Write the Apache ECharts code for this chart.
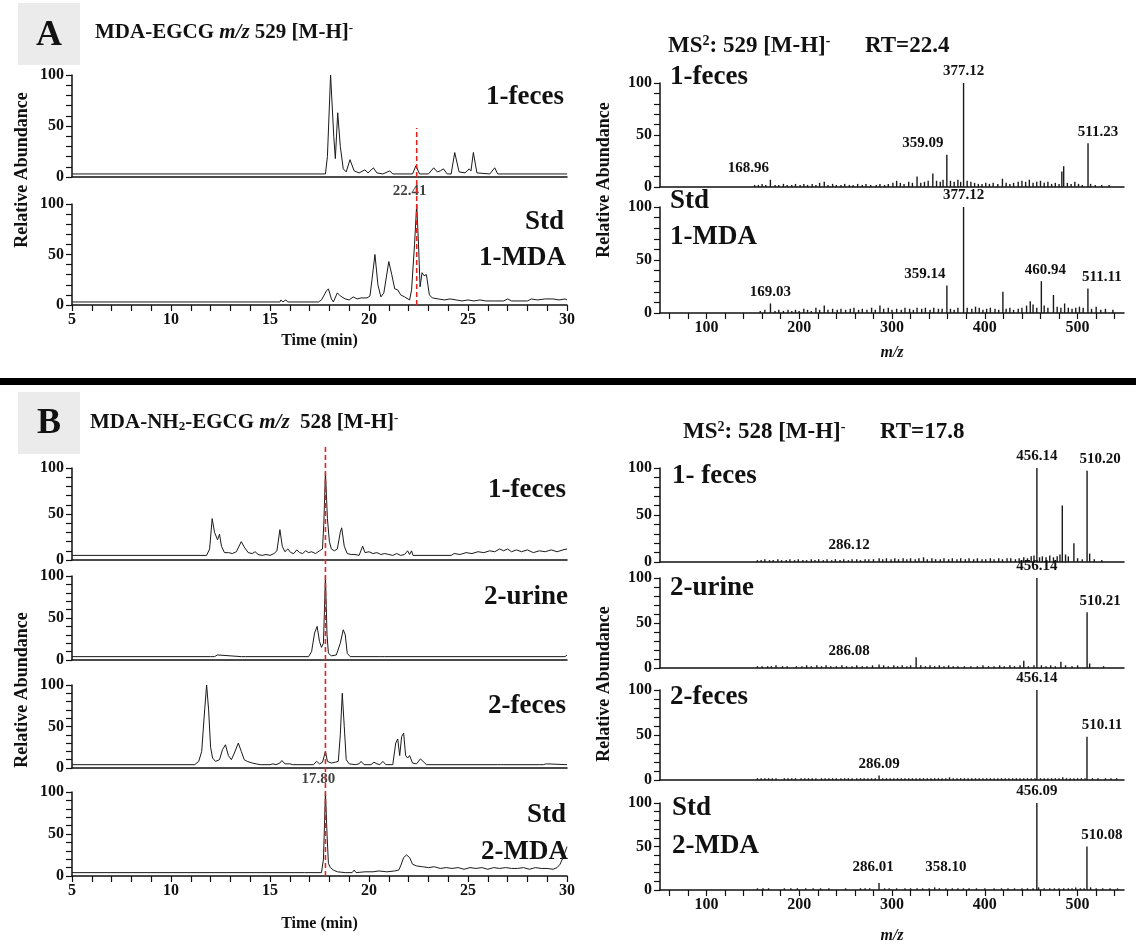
<!DOCTYPE html>
<html>
<head>
<meta charset="utf-8">
<script src="https://cdn.jsdelivr.net/npm/echarts@6/dist/echarts.min.js"></script>
<style>
html, body { margin: 0; padding: 0; background: #fff; }
#chart { width: 1136px; height: 945px; }
</style>
</head>
<body>
<div id="chart"></div>
<script>
var FONT = '"Liberation Serif", "Times New Roman", serif';
var INK = '#111';

// axes
var timeRange = [5, 30];
var timeLabels = [5, 10, 15, 20, 25, 30];
var abundLabels = [0, 50, 100];
var mzRange = [50, 550];
var mzLabels = [100, 200, 300, 400, 500];
var mzTicks = [60, 80, 100, 120, 140, 160, 180, 200, 220, 240, 260, 280, 300, 320, 340, 360, 380, 400, 420, 440, 460, 480, 500, 520, 540];

// retention times marked by the red dashed lines
var rtA = 22.41;
var rtB = 17.80;

// extracted ion chromatograms [time, relative abundance]
var chromA_feces1 = [[5,3],[17.8,3],[17.9,20],[18.06,100],[18.22,40],[18.3,18],[18.42,63],[18.55,30],[18.7,8],[18.85,5],[19.04,17],[19.25,6],[19.5,4],[19.79,7],[19.95,4],[20.22,9],[20.4,4],[20.7,3],[21.05,6],[21.2,3],[22.2,3],[22.37,11],[22.55,3],[23.0,3],[23.27,9],[23.45,5],[23.6,6],[23.76,8],[23.95,3],[24.15,3],[24.33,24],[24.55,5],[24.85,4],[25.06,8],[25.15,6],[25.27,24],[25.45,4],[26.1,3],[26.35,9],[26.5,3],[30,3]];
var chromA_std1 = [[5,3],[15.5,3],[15.55,5],[15.65,3],[15.8,5],[15.9,3],[17.45,3],[17.6,5],[17.85,14],[17.95,16],[18.1,6],[18.2,3],[18.4,12],[18.55,9],[18.8,6],[19.0,5],[19.2,8],[19.4,6],[19.6,7],[19.9,7],[20.05,9],[20.15,25],[20.3,50],[20.45,20],[20.6,8],[20.75,12],[21.0,43],[21.15,30],[21.3,16],[21.45,15],[21.6,10],[21.8,8],[22.05,5],[22.15,15],[22.3,60],[22.41,100],[22.5,60],[22.58,18],[22.68,32],[22.78,29],[22.9,30],[23.05,10],[23.2,7],[23.5,6],[23.8,5],[24.1,6],[24.4,5],[24.7,4],[25.0,5],[25.3,4],[25.6,5],[25.9,4],[26.3,4],[26.8,4],[27.0,6],[27.2,4],[28.0,4],[28.2,6],[28.5,5],[28.9,6],[29.3,6],[29.6,5],[29.9,6],[30,5]];
var chromB_feces1 = [[5,5],[11.8,5],[11.95,12],[12.08,45],[12.2,30],[12.35,22],[12.45,28],[12.55,15],[12.7,8],[12.9,8],[13.1,7],[13.3,9],[13.55,20],[13.7,14],[13.9,8],[14.1,7],[14.25,9],[14.4,6],[14.6,5],[14.8,6],[15.0,5],[15.2,7],[15.35,10],[15.5,33],[15.62,15],[15.75,9],[15.9,12],[16.05,8],[16.2,7],[16.35,11],[16.5,8],[16.65,7],[16.8,10],[16.95,8],[17.1,9],[17.3,7],[17.5,10],[17.65,12],[17.72,40],[17.8,96],[17.9,45],[18.0,20],[18.1,12],[18.25,10],[18.4,12],[18.55,30],[18.62,35],[18.75,15],[18.9,7],[19.1,6],[19.3,6],[19.5,5],[19.68,15],[19.8,8],[20.0,9],[20.2,7],[20.4,8],[20.6,6],[20.8,7],[21.0,6],[21.2,5],[21.4,7],[21.6,5],[21.8,6],[21.95,10],[22.05,6],[22.15,10],[22.22,5],[24.15,5],[24.3,7],[24.6,6],[24.9,8],[25.2,7],[25.5,9],[25.8,8],[26.1,10],[26.35,9],[26.6,12],[26.8,10],[27.0,12],[27.2,9],[27.45,11],[27.7,9],[28.0,11],[28.3,8],[28.6,10],[28.9,9],[29.2,11],[29.5,9],[29.8,11],[30,12]];
var chromB_urine2 = [[5,4],[12.0,4],[12.1,6],[12.2,4],[12.35,6],[12.45,4],[13.55,4],[13.65,6],[13.75,4],[16.95,4],[17.1,10],[17.25,32],[17.38,40],[17.5,22],[17.6,15],[17.7,20],[17.8,100],[17.88,30],[17.95,8],[18.1,5],[18.35,6],[18.55,20],[18.7,36],[18.8,30],[18.9,8],[19.05,4],[20.6,4],[20.7,6],[20.8,4],[29.9,4],[30,6]];
var chromB_feces2 = [[5,4],[11.2,4],[11.4,8],[11.55,20],[11.7,70],[11.8,100],[11.9,70],[12.0,25],[12.1,12],[12.25,8],[12.45,10],[12.6,22],[12.75,28],[12.9,15],[13.05,10],[13.2,18],[13.4,30],[13.55,20],[13.7,10],[13.85,8],[14.1,6],[14.3,5],[14.5,4],[15.0,4],[15.15,5],[15.3,4],[15.5,6],[15.6,9],[15.75,5],[16.0,5],[16.15,4],[17.2,4],[17.35,8],[17.5,5],[17.65,7],[17.8,20],[17.9,8],[18.1,6],[18.3,7],[18.45,8],[18.55,40],[18.65,90],[18.75,50],[18.85,10],[19.0,5],[19.3,4],[19.5,5],[19.6,8],[19.75,4],[20.1,4],[20.25,7],[20.4,5],[20.55,4],[20.7,8],[20.85,4],[21.2,4],[21.35,30],[21.45,35],[21.55,15],[21.65,38],[21.75,42],[21.85,15],[21.95,12],[22.05,15],[22.2,6],[22.4,5],[22.6,11],[22.7,9],[22.9,4],[26.5,4],[26.6,6],[26.7,4],[28.6,4],[28.7,5],[28.8,4],[28.95,5],[29.05,4],[30,4]];
var chromB_std2 = [[5,4],[14.55,4],[14.6,6],[14.65,4],[16.75,4],[16.8,6],[16.85,4],[17.6,4],[17.7,20],[17.8,100],[17.88,50],[17.95,15],[18.05,10],[18.2,7],[18.4,5],[18.8,4],[19.15,4],[19.25,7],[19.35,4],[19.8,5],[20.2,5],[20.5,6],[20.9,5],[21.3,6],[21.5,7],[21.6,12],[21.75,22],[21.9,25],[22.05,22],[22.2,14],[22.4,12],[22.7,11],[23.0,10],[23.3,11],[23.6,9],[23.9,10],[24.2,9],[24.5,10],[24.8,8],[25.1,10],[25.4,9],[25.7,10],[26.0,8],[26.3,10],[26.6,9],[26.9,10],[27.2,9],[27.5,9],[27.8,10],[28.1,8],[28.4,10],[28.7,9],[29.0,9],[29.3,8],[29.5,10],[29.65,14],[29.8,22],[30,35]];

// MS2 spectra: unlabelled sticks [m/z, relative abundance]
var specA_feces1 = [[152,2],[156,2],[160,3],[164,2],[174,2],[178,2],[183,3],[187,2],[192,2],[196,3],[201,2],[205,3],[209,2],[214,3],[218,2],[222,4],[227,5],[231,2],[236,3],[240,2],[245,2],[249,3],[254,2],[258,2],[263,3],[268,2],[272,3],[277,2],[283,2],[287,3],[292,2],[296,3],[301,4],[305,6],[309,4],[313,3],[318,5],[322,4],[327,10],[331,4],[335,5],[339,6],[344,13],[348,6],[352,5],[355,7],[363,6],[367,5],[371,7],[374,5],[381,6],[385,5],[389,4],[393,3],[397,3],[401,4],[405,3],[409,4],[414,3],[419,8],[423,4],[427,3],[431,4],[436,5],[440,6],[444,5],[448,7],[452,4],[456,5],[460,6],[464,4],[468,5],[472,3],[476,4],[480,3],[483,15],[485,20],[489,4],[493,3],[497,5],[501,3],[505,2],[514,3],[519,2],[526,2],[534,2]];
var specA_std1 = [[158,2],[163,3],[174,2],[178,3],[183,2],[188,3],[192,2],[196,3],[200,2],[205,4],[209,3],[213,2],[218,5],[222,3],[227,7],[231,3],[236,4],[241,3],[245,4],[250,3],[255,4],[259,5],[264,3],[268,4],[273,3],[278,5],[282,3],[287,7],[291,4],[296,5],[300,3],[305,4],[310,3],[314,5],[319,4],[323,3],[327,5],[332,4],[336,5],[341,3],[345,5],[350,4],[354,4],[363,4],[367,3],[371,5],[381,5],[386,4],[390,6],[394,5],[398,3],[402,4],[406,5],[411,4],[415,3],[419.5,20],[423,4],[427,5],[431,3],[436,4],[440,5],[445,7],[449,11],[452,8],[456,5],[464,7],[468,5],[474,17],[478,6],[482,5],[486,9],[490,5],[494,4],[498,5],[502,6],[506,5],[515,4],[520,6],[525,3],[530,4],[538,3]];
var specB_feces1 = [[155,2],[159,2],[163,3],[168,2],[172,2],[177,3],[181,2],[186,2],[190,3],[195,2],[199,3],[204,2],[208,2],[213,3],[217,2],[221,3],[226,2],[230,3],[235,2],[239,3],[244,2],[248,3],[253,2],[257,3],[262,3],[266,2],[271,3],[275,3],[280,3],[290,3],[294,4],[299,3],[303,4],[307,3],[312,4],[316,3],[320,4],[325,3],[329,4],[334,5],[338,3],[343,4],[347,3],[352,3],[356,4],[361,3],[365,4],[370,3],[374,4],[379,3],[383,4],[388,3],[392,4],[397,3],[401,3],[406,4],[410,3],[415,4],[419,3],[424,4],[428,4],[433,3],[437,4],[442,5],[446,4],[450,6],[453,7],[459,5],[462,6],[466,5],[470,7],[474,5],[478,6],[481,8],[483.5,60],[487,8],[490,6],[496,20],[500,4],[505,3],[513,9],[518,3],[526,2]];
var specB_urine2 = [[155,2],[160,2],[166,2],[170,2],[175,3],[182,2],[187,2],[197,2],[203,2],[208,3],[213,2],[219,3],[224,2],[229,3],[234,2],[240,2],[246,3],[251,2],[257,2],[262,3],[268,2],[273,2],[279,3],[291,3],[296,2],[302,3],[306,2],[311,3],[316,2],[320,3],[326,12],[331,3],[336,2],[341,3],[346,2],[351,3],[356,2],[361,3],[366,2],[371,2],[378,2],[385,2],[392,2],[398,3],[404,2],[410,2],[416,3],[421,2],[427,3],[432,2],[438,3],[442,8],[447,2],[453,3],[461,3],[466,2],[471,3],[476,2],[482,7],[487,3],[494,2],[500,3],[513,5],[528,2]];
var specB_feces2 = [[155,2],[159,2],[163,2],[167,2],[171,2],[175,2],[184,2],[188,2],[192,2],[196,2],[202,2],[206,2],[210,2],[214,2],[218,2],[224,2],[228,2],[232,2],[236,2],[240,2],[245,2],[249,2],[253,2],[257,2],[262,2],[266,2],[270,2],[274,2],[278,2],[282,2],[290,2],[294,2],[298,2],[302,2],[306,2],[310,2],[314,2],[318,2],[322,2],[326,2],[330,2],[334,2],[338,2],[342,2],[346,2],[350,2],[354,2],[358,2],[362,3],[366,2],[370,2],[374,2],[378,2],[382,2],[386,2],[390,2],[394,2],[398,2],[402,2],[406,2],[410,2],[414,2],[418,2],[422,2],[426,2],[430,2],[434,2],[438,2],[442,2],[446,2],[450,2],[454,2],[460,2],[464,2],[468,2],[472,2],[476,2],[480,2],[484,3],[488,2],[492,2],[496,2],[500,2],[504,2],[508,2],[516,2],[522,2],[530,2],[536,2],[542,2]];
var specB_std2 = [[155,2],[161,2],[167,2],[184,2],[191,2],[198,2],[207,2],[215,2],[223,2],[232,2],[250,2],[266,2],[271,2],[276,2],[292,2],[297,2],[305,2],[314,2],[320,2],[327,2],[333,2],[340,2],[346,3],[351,2],[365,2],[371,2],[377,2],[383,2],[391,2],[400,2],[410,2],[418,2],[425,2],[432,2],[440,2],[446,2],[452,2],[458,3],[464,2],[470,2],[475,2],[480,2],[485,2],[490,2],[494,2],[498,3],[503,2],[507,2],[514,3],[520,2],[527,2],[535,2],[543,2]];

// labelled fragment ions [m/z, relative abundance]
var peaksA_feces1 = [[168.96,7],[359.09,31],[377.12,100],[511.23,42]];
var peaksA_std1 = [[169.03,9],[359.14,26],[377.12,100],[460.94,30],[511.11,23]];
var peaksB_feces1 = [[286.12,4],[456.14,100],[510.20,97]];
var peaksB_urine2 = [[286.08,4],[456.14,100],[510.21,62]];
var peaksB_feces2 = [[286.09,5],[456.14,100],[510.11,48]];
var peaksB_std2 = [[286.01,8],[358.10,2],[456.09,100],[510.08,50]];

// label nudges in px (style only)
var labelShift = {
  '168.96': [-22, 0], '359.09': [-24, 0], '511.23': [10, 0],
  '359.14': [-22, 0], '460.94': [4, 0], '511.11': [14, 0],
  '286.12': [-30, -2], '510.20': [13, 0],
  '286.08': [-30, -2], '510.21': [13, 0],
  '510.11': [15, 0],
  '286.01': [-6, -4], '358.10': [0, -10], '510.08': [15, 0]
};

var grids = [], xAxes = [], yAxes = [], series = [];

function addPanel(rect, kind, showX, nameGap) {
  var i = grids.length;
  grids.push({ left: rect[0], top: rect[1], width: rect[2], height: rect[3] });
  var isTime = kind === 'time';
  var x = {
    type: 'value', gridIndex: i,
    min: isTime ? timeRange[0] : mzRange[0],
    max: isTime ? timeRange[1] : mzRange[1],
    axisLine: { show: true, onZero: false, lineStyle: { color: INK, width: 1.5 } },
    splitLine: { show: false },
    axisTick: { show: showX, length: 6, lineStyle: { color: INK, width: 1.2 } },
    axisLabel: { show: showX, color: INK, fontFamily: FONT, fontWeight: 'bold', fontSize: 16, margin: 7 }
  };
  if (isTime) {
    x.interval = 1;
    x.axisLabel.formatter = function (v) { return timeLabels.indexOf(v) >= 0 ? String(v) : ''; };
  } else {
    x.axisTick.customValues = mzTicks;
    x.axisLabel.customValues = mzLabels;
  }
  if (showX) {
    x.name = isTime ? 'Time (min)' : 'm/z';
    x.nameLocation = 'middle';
    x.nameGap = nameGap;
    x.nameTextStyle = { color: INK, fontFamily: FONT, fontWeight: 'bold', fontSize: 16, fontStyle: isTime ? 'normal' : 'italic' };
  }
  xAxes.push(x);
  yAxes.push({
    type: 'value', gridIndex: i, min: 0, max: 100, interval: 10,
    axisLine: { show: true, lineStyle: { color: INK, width: 1.5 } },
    axisTick: { show: true, length: 6, lineStyle: { color: INK, width: 1.2 } },
    splitLine: { show: false },
    axisLabel: {
      color: INK, fontFamily: FONT, fontWeight: 'bold', fontSize: 16, margin: 8,
      formatter: function (v) { return abundLabels.indexOf(v) >= 0 ? String(v) : ''; }
    }
  });
  return i;
}

function addChrom(rect, data, showX, nameGap, rtLabel) {
  var i = addPanel(rect, 'time', showX, nameGap);
  series.push({
    type: 'line', xAxisIndex: i, yAxisIndex: i, data: data,
    symbol: 'none', lineStyle: { color: '#1a1a1a', width: 1 }, silent: true
  });
  if (rtLabel != null) {
    var top = 0;
    data.forEach(function (p) { if (Math.abs(p[0] - rtLabel) < 0.06) top = Math.max(top, p[1]); });
    series.push({
      type: 'scatter', xAxisIndex: i, yAxisIndex: i, symbolSize: 0, silent: true,
      data: [{ value: [rtLabel, top], label: {
        show: true, position: 'top', distance: 5, offset: [-7, 0], formatter: rtLabel.toFixed(2),
        color: INK, fontFamily: FONT, fontWeight: 'bold', fontSize: 15 } }]
    });
  }
}

function addSpec(rect, sticks, peaks, showX, nameGap) {
  var i = addPanel(rect, 'mz', showX, nameGap);
  var d = sticks.map(function (p) { return [p[0], p[1]]; });
  peaks.forEach(function (p) {
    var txt = p[0].toFixed(2);
    d.push({ value: [p[0], p[1]], label: {
      show: true, position: 'top', distance: 4, offset: labelShift[txt] || [0, 0], formatter: txt,
      color: INK, fontFamily: FONT, fontWeight: 'bold', fontSize: 15 } });
  });
  series.push({
    type: 'bar', xAxisIndex: i, yAxisIndex: i, data: d, barWidth: 1.4,
    itemStyle: { color: '#1a1a1a' }, silent: true
  });
}

function addMarker(rect, rt) {
  var i = grids.length;
  grids.push({ left: rect[0], top: rect[1], width: rect[2], height: rect[3] });
  xAxes.push({ type: 'value', gridIndex: i, min: timeRange[0], max: timeRange[1], show: false });
  yAxes.push({ type: 'value', gridIndex: i, min: 0, max: 1, show: false });
  series.push({
    type: 'line', xAxisIndex: i, yAxisIndex: i, data: [[rt, 0], [rt, 1]], symbol: 'none', silent: true,
    lineStyle: { color: '#e52420', width: 1.6, type: [5, 3] }, z: 5
  });
}

// panel A
addChrom([72, 75, 495, 102], chromA_feces1, false, 0, null);
addChrom([72, 204, 495, 101], chromA_std1, true, 28, rtA);
addSpec([660, 83, 464, 104], specA_feces1, peaksA_feces1, false, 0);
addSpec([660, 207, 464, 106], specA_std1, peaksA_std1, true, 32);
addMarker([72, 128, 495, 177], rtA);

// panel B
addChrom([72, 468, 495, 92], chromB_feces1, false, 0, null);
addChrom([72, 576, 495, 84], chromB_urine2, false, 0, null);
addChrom([72, 685, 495, 83], chromB_feces2, false, 0, null);
addChrom([72, 792, 495, 84], chromB_std2, true, 40, rtB);
addSpec([660, 468, 464, 94], specB_feces1, peaksB_feces1, false, 0);
addSpec([660, 578, 464, 90], specB_urine2, peaksB_urine2, false, 0);
addSpec([660, 690, 464, 90], specB_feces2, peaksB_feces2, false, 0);
addSpec([660, 803, 464, 89], specB_std2, peaksB_std2, true, 38);
addMarker([72, 445, 495, 431], rtB);

function txt(x, y, s, size, align) {
  return { type: 'text', x: x, y: y, silent: true, style: {
    text: s, fontFamily: FONT, fontWeight: 'bold', fontSize: size, fill: INK,
    align: align || 'left', textAlign: align || 'left', verticalAlign: 'middle', textVerticalAlign: 'middle' } };
}
function richTxt(x, y, s, size) {
  var rich = {
    i: { fontFamily: FONT, fontWeight: 'bold', fontStyle: 'italic', fontSize: size, fill: INK },
    sup: { fontFamily: FONT, fontWeight: 'bold', fontSize: Math.round(size * 0.62), fill: INK, verticalAlign: 'top' },
    sub: { fontFamily: FONT, fontWeight: 'bold', fontSize: Math.round(size * 0.62), fill: INK, verticalAlign: 'bottom' }
  };
  return { type: 'text', x: x, y: y, silent: true, style: {
    text: s, rich: rich, fontFamily: FONT, fontWeight: 'bold', fontSize: size, fill: INK,
    align: 'left', verticalAlign: 'middle', textVerticalAlign: 'middle' } };
}
function yTitle(x, y) {
  var t = txt(x, y, 'Relative Abundance', 18, 'center');
  t.rotation = Math.PI / 2;
  return t;
}

var graphics = [
  { type: 'rect', shape: { x: 18, y: 3, width: 62, height: 62 }, style: { fill: '#ebebeb' }, silent: true },
  txt(49, 36, 'A', 36, 'center'),
  richTxt(95, 33, 'MDA-EGCG {i|m/z} 529 [M-H]{sup|-}', 21),
  richTxt(668, 46, 'MS{sup|2}: 529 [M-H]{sup|-}      RT=22.4', 23),
  { type: 'rect', shape: { x: 0, y: 378, width: 1136, height: 7 }, style: { fill: '#000' }, silent: true },
  { type: 'rect', shape: { x: 18, y: 392, width: 62, height: 62 }, style: { fill: '#ebebeb' }, silent: true },
  txt(49, 424, 'B', 36, 'center'),
  richTxt(90, 423, 'MDA-NH{sub|2}-EGCG {i|m/z}  528 [M-H]{sup|-}', 21),
  richTxt(683, 432, 'MS{sup|2}: 528 [M-H]{sup|-}      RT=17.8', 23),
  yTitle(22, 170), yTitle(604, 180), yTitle(22, 690), yTitle(604, 684),
  txt(564, 97, '1-feces', 27, 'right'),
  txt(564, 222, 'Std', 27, 'right'),
  txt(566, 258, '1-MDA', 27, 'right'),
  txt(670, 77, '1-feces', 27, 'left'),
  txt(670, 201, 'Std', 27, 'left'),
  txt(670, 237, '1-MDA', 27, 'left'),
  txt(566, 490, '1-feces', 27, 'right'),
  txt(568, 597, '2-urine', 27, 'right'),
  txt(566, 706, '2-feces', 27, 'right'),
  txt(566, 815, 'Std', 27, 'right'),
  txt(568, 852, '2-MDA', 27, 'right'),
  txt(672, 476, '1- feces', 27, 'left'),
  txt(670, 588, '2-urine', 27, 'left'),
  txt(670, 697, '2-feces', 27, 'left'),
  txt(672, 808, 'Std', 27, 'left'),
  txt(672, 846, '2-MDA', 27, 'left')
];

var chart = echarts.init(document.getElementById('chart'), null, { renderer: 'canvas' });
chart.setOption({
  animation: false,
  backgroundColor: '#fff',
  textStyle: { fontFamily: FONT },
  grid: grids,
  xAxis: xAxes,
  yAxis: yAxes,
  series: series,
  graphic: { elements: graphics }
});
</script>
</body>
</html>
